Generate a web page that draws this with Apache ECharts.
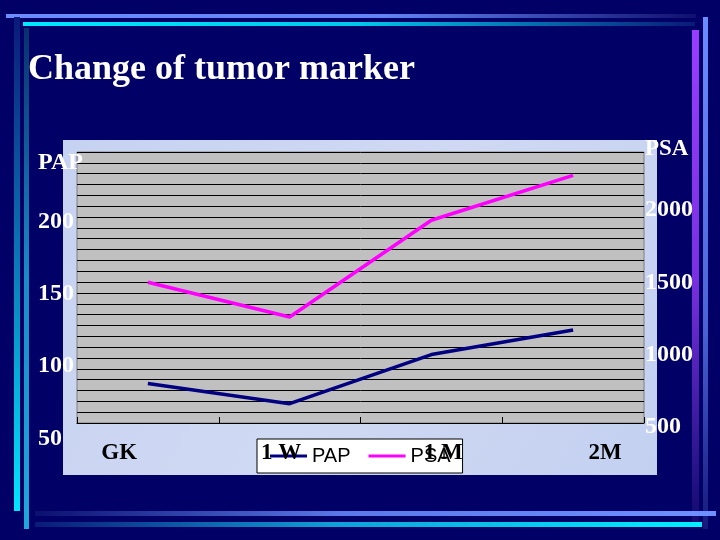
<!DOCTYPE html>
<html>
<head>
<meta charset="utf-8">
<script src="https://cdn.jsdelivr.net/npm/echarts@6/dist/echarts.min.js"></script>
<style>
html,body{margin:0;padding:0;background:#000066;}
#chart{width:720px;height:540px;}
</style>
</head>
<body>
<div id="chart"></div>
<script>
// ---- data ----
const categories = ['GK', '1 W', '1 M', '2M'];
const papValues = [88, 74, 108, 125];
const psaValues = [1500, 1260, 1930, 2240];
const papTicks = [50, 100, 150, 200];
const psaTicks = [500, 1000, 1500, 2000];
const titleText = 'Change of tumor marker';
const papName = 'PAP';
const psaName = 'PSA';

const serif = "'Liberation Serif', 'Times New Roman', serif";
const sans = "'Liberation Sans', Arial, sans-serif";

function lin(x2, y2, stops) {
  return { type: 'linear', x: 0, y: 0, x2: x2, y2: y2,
    colorStops: stops.map(function (s) { return { offset: s[0], color: s[1] }; }) };
}

const chart = echarts.init(document.getElementById('chart'), null, { renderer: 'canvas' });

const papStep = papTicks[1] - papTicks[0];
const psaStep = psaTicks[1] - psaTicks[0];

const whiteLabel = {
  color: '#ffffff', fontFamily: serif, fontWeight: 'bold', fontSize: 24,
  textShadowColor: 'rgba(0,0,0,0.75)', textShadowOffsetX: 2, textShadowOffsetY: 2, textShadowBlur: 0
};

const option = {
  backgroundColor: '#000066',
  animation: false,
  title: [
    { text: titleText, left: 28, top: 52, padding: 0,
      textStyle: { color: '#ffffff', fontFamily: serif, fontWeight: 'bold', fontSize: 36,
        textShadowColor: 'rgba(0,0,0,0.7)', textShadowOffsetX: 2, textShadowOffsetY: 2 } },
    { text: papName, left: 38, top: 151, padding: 0, textStyle: Object.assign({}, whiteLabel) },
    { text: psaName, left: 645, top: 138, padding: 0, textStyle: Object.assign({}, whiteLabel, { fontSize: 23 }) }
  ],
  graphic: [
    // decorative bars
    { type: 'rect', z: -10, shape: { x: 6, y: 14, width: 690, height: 4 },
      style: { fill: lin(1, 0, [[0, '#6b8cff'], [0.55, '#6384f5'], [1, '#101070']]) } },
    { type: 'rect', z: -10, shape: { x: 23, y: 22, width: 672, height: 4 },
      style: { fill: lin(1, 0, [[0, '#00e8ff'], [0.5, '#00c8ea'], [1, '#0a1a78']]) } },
    { type: 'rect', z: -10, shape: { x: 14, y: 17, width: 6, height: 494 },
      style: { fill: lin(0, 1, [[0, '#0a1a78'], [0.5, '#0a7ab8'], [1, '#00e8ff']]) } },
    { type: 'rect', z: -10, shape: { x: 24, y: 28, width: 5, height: 501 },
      style: { fill: lin(0, 1, [[0, '#08306e'], [0.5, '#1a8cc8'], [1, '#1fa8dc']]) } },
    { type: 'rect', z: -10, shape: { x: 692, y: 30, width: 7, height: 492 },
      style: { fill: lin(0, 1, [[0, '#9a3cff'], [0.5, '#7a30e0'], [1, '#120a70']]) } },
    { type: 'rect', z: -10, shape: { x: 703, y: 17, width: 5, height: 512 },
      style: { fill: lin(0, 1, [[0, '#6b8cff'], [0.6, '#4a64d8'], [1, '#14187a']]) } },
    { type: 'rect', z: -10, shape: { x: 35, y: 511, width: 681, height: 5 },
      style: { fill: lin(1, 0, [[0, '#0a1070'], [0.45, '#5a78e8'], [1, '#7090ff']]) } },
    { type: 'rect', z: -10, shape: { x: 35, y: 522, width: 667, height: 5 },
      style: { fill: lin(1, 0, [[0, '#0a1a78'], [0.45, '#10a0d8'], [1, '#00f0ff']]) } },
    // textured chart backdrop
    { type: 'rect', z: -5, shape: { x: 63, y: 140, width: 594, height: 335 },
      style: { fill: lin(1, 1, [[0, '#c6d2f1'], [0.5, '#d0d9f3'], [1, '#c3d0f0']]) } }
  ],
  legend: {
    left: 257, top: 439, z: 4,
    backgroundColor: '#ffffff', borderColor: '#000000', borderWidth: 1, borderRadius: 0,
    padding: [7, 12, 7, 13],
    icon: 'rect', itemWidth: 37, itemHeight: 3, itemGap: 18,
    textStyle: { color: '#000000', fontFamily: sans, fontSize: 20 },
    data: [papName, psaName]
  },
  grid: [
    { left: 77, top: 152, width: 567, height: 271, show: true,
      backgroundColor: '#c0c0c0', borderColor: '#7f7f7f', borderWidth: 1 },
    { left: 77, top: 149.5, width: 567, height: 288.8 },
    { left: 77, top: 137.9, width: 567, height: 288.8 },
    { left: 38.2, top: 149.5, width: 648, height: 288.8 }
  ],
  xAxis: [
    { gridIndex: 0, type: 'category', data: categories, boundaryGap: true,
      axisLine: { show: true, lineStyle: { color: '#000000', width: 1 } },
      axisTick: { show: true, inside: true, length: 6, lineStyle: { color: '#000000' } },
      axisLabel: { show: false }, splitLine: { show: false } },
    { gridIndex: 1, type: 'category', data: categories, boundaryGap: true, show: false },
    { gridIndex: 2, type: 'category', data: categories, boundaryGap: true, show: false },
    { gridIndex: 3, type: 'category', data: categories, boundaryGap: true, z: 10,
      axisLine: { show: false }, axisTick: { show: false }, splitLine: { show: false },
      axisLabel: { show: true, margin: 3, color: '#000000', fontFamily: serif, fontWeight: 'bold', fontSize: 23,
        textShadowColor: 'rgba(120,120,140,0.6)', textShadowOffsetX: 1, textShadowOffsetY: 1 } }
  ],
  yAxis: [
    { gridIndex: 0, type: 'value', min: 0, max: 25, interval: 1,
      axisLine: { show: false }, axisTick: { show: false }, axisLabel: { show: false },
      splitLine: { show: true, lineStyle: { color: '#000000', width: 1 } } },
    { gridIndex: 1, type: 'value', position: 'left',
      min: papTicks[0], max: papTicks[papTicks.length - 1] + papStep, interval: papStep,
      axisLine: { show: false }, axisTick: { show: false }, splitLine: { show: false },
      axisLabel: Object.assign({ align: 'left', margin: 39,
        formatter: function (v) { return papTicks.indexOf(v) >= 0 ? String(v) : ''; } }, whiteLabel) },
    { gridIndex: 2, type: 'value', position: 'right',
      min: psaTicks[0], max: psaTicks[psaTicks.length - 1] + psaStep, interval: psaStep,
      axisLine: { show: false }, axisTick: { show: false }, splitLine: { show: false },
      axisLabel: Object.assign({ align: 'left', margin: 1,
        formatter: function (v) { return psaTicks.indexOf(v) >= 0 ? String(v) : ''; } }, whiteLabel) },
    { gridIndex: 3, type: 'value', show: false, min: 0, max: 1 }
  ],
  series: [
    { name: papName, type: 'line', xAxisIndex: 1, yAxisIndex: 1, data: papValues,
      symbol: 'none', lineStyle: { color: '#000080', width: 3.5 }, itemStyle: { color: '#000080' }, z: 3 },
    { name: psaName, type: 'line', xAxisIndex: 2, yAxisIndex: 2, data: psaValues,
      symbol: 'none', lineStyle: { color: '#ff00ff', width: 3.5 }, itemStyle: { color: '#ff00ff' }, z: 3 }
  ]
};

chart.setOption(option);
</script>
</body>
</html>
